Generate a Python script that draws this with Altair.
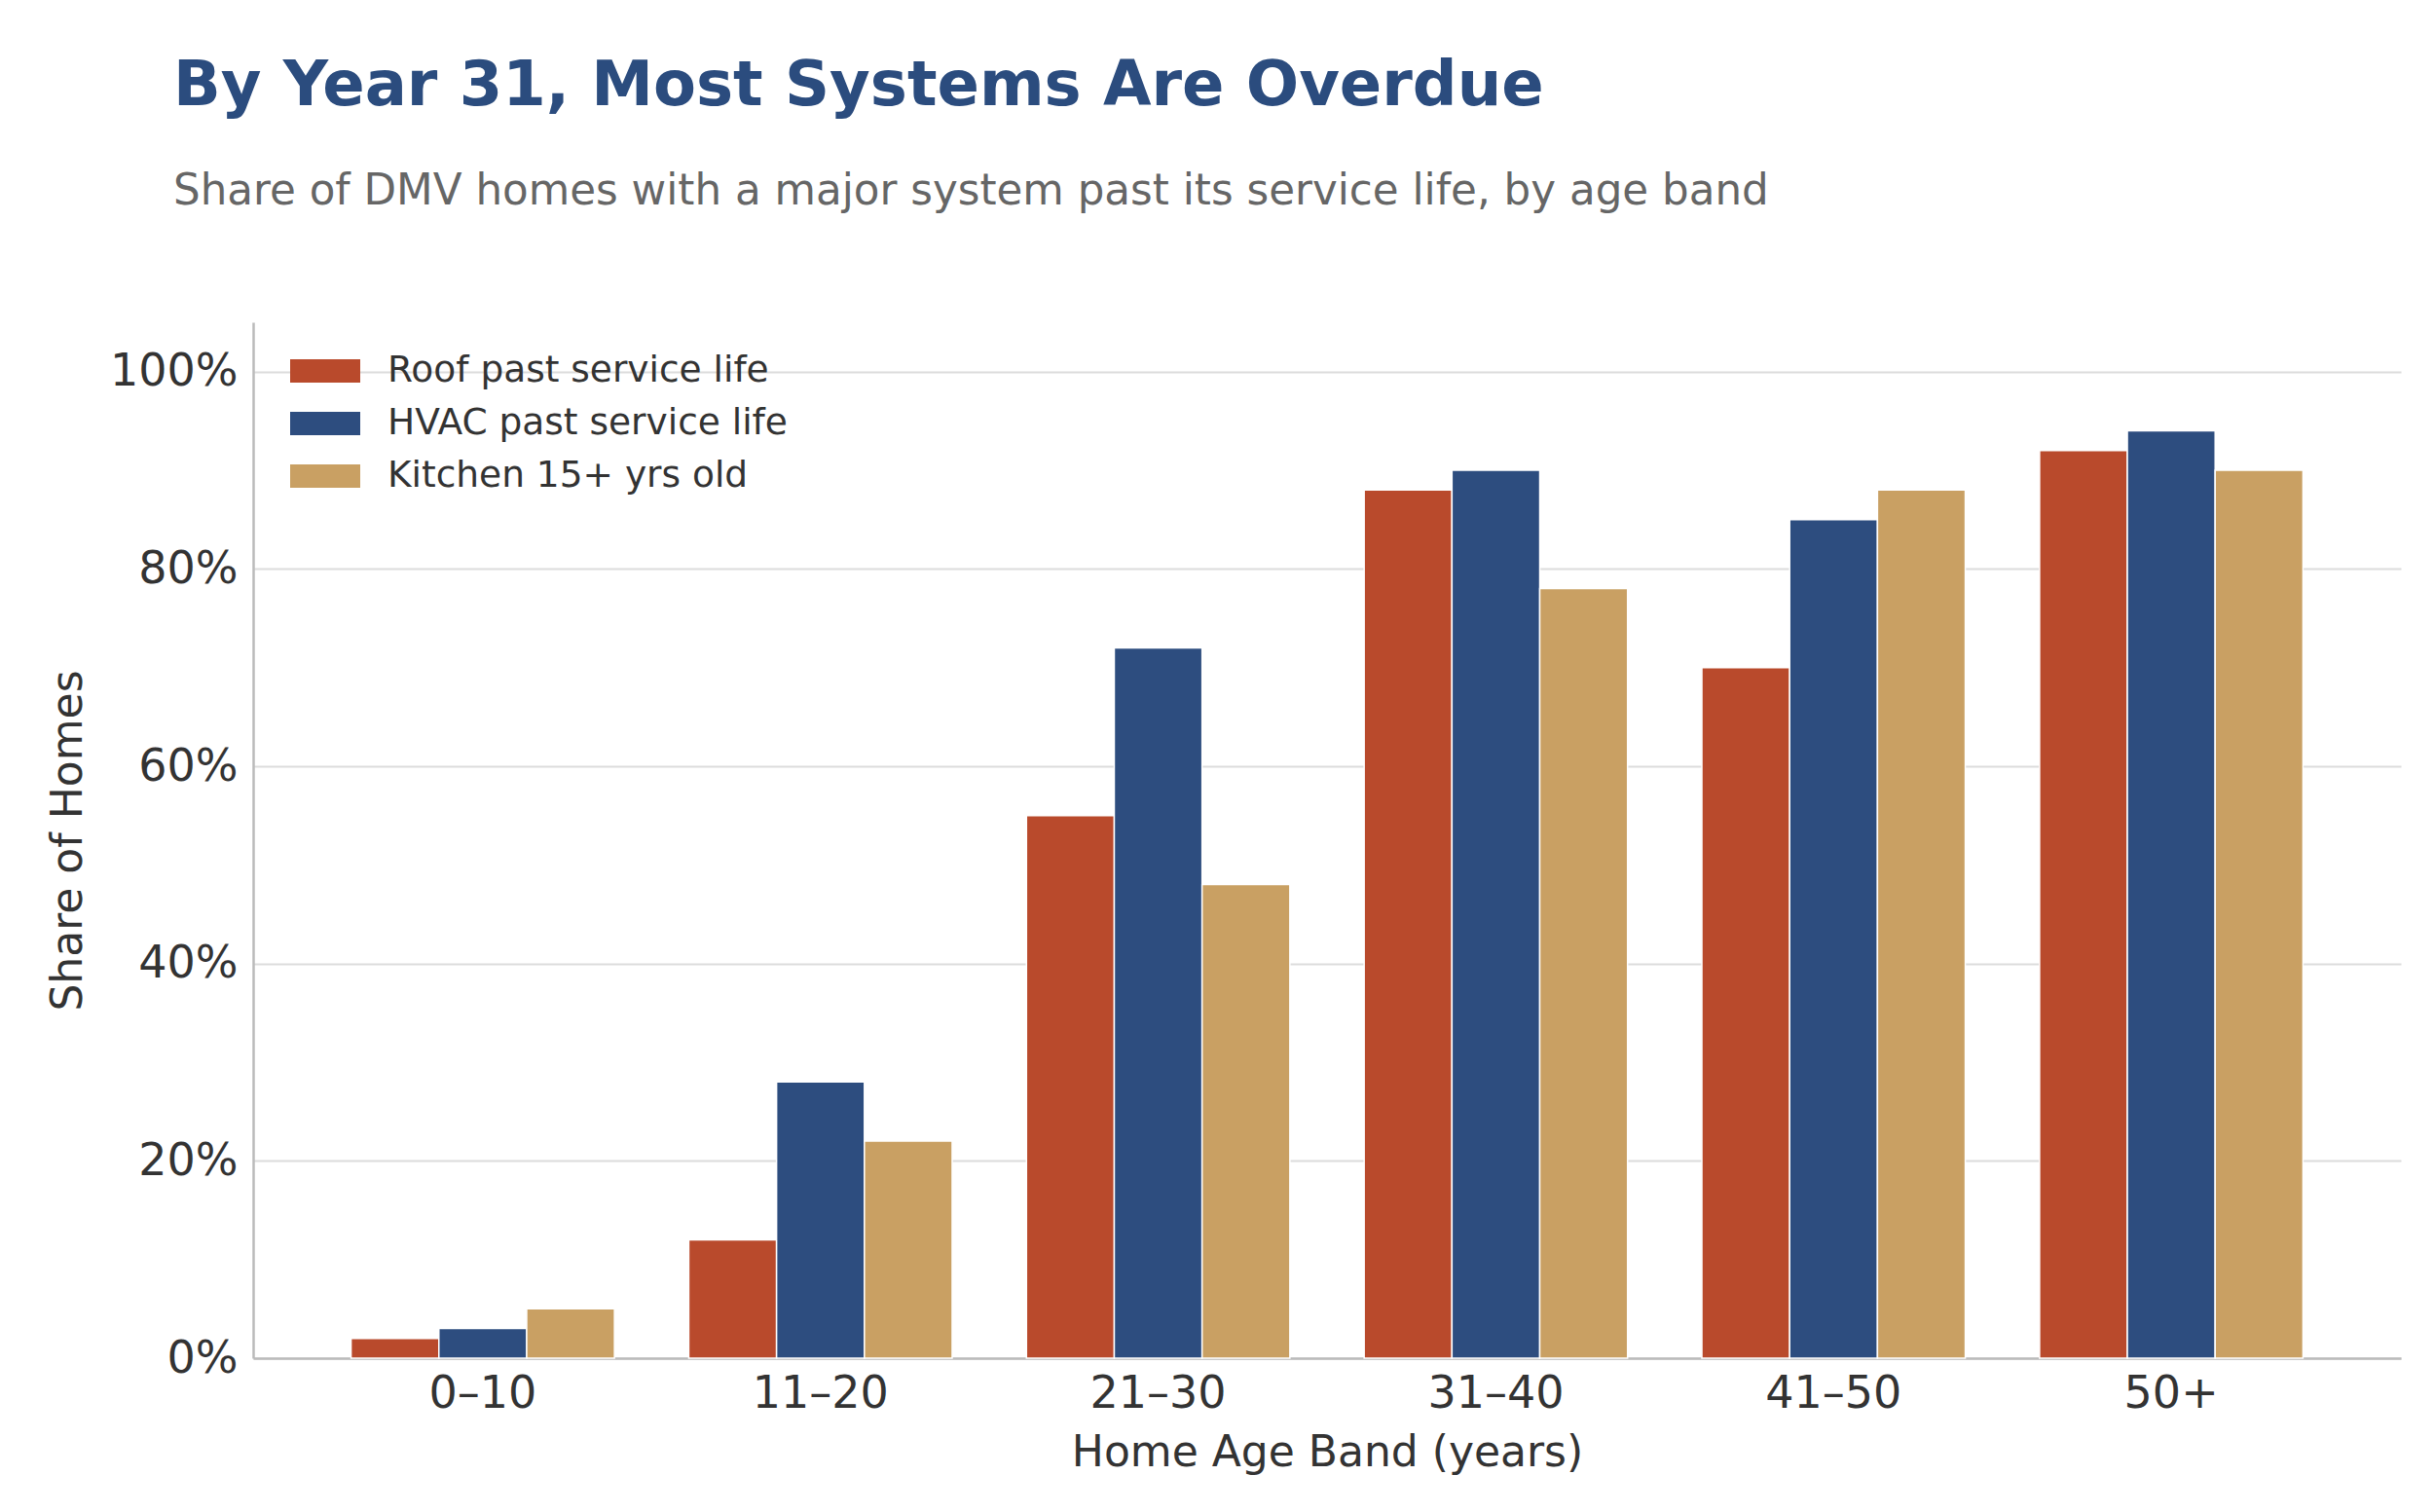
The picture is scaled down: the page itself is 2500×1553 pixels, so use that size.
import pandas as pd
import altair as alt

# age bands and the three systems (share of homes)
bands = ["0–10", "11–20", "21–30", "31–40", "41–50", "50+"]
systems = ["Roof past service life", "HVAC past service life", "Kitchen 15+ yrs old"]
roof = [0.02, 0.12, 0.55, 0.88, 0.70, 0.92]
hvac = [0.03, 0.28, 0.72, 0.90, 0.85, 0.94]
kitchen = [0.05, 0.22, 0.48, 0.78, 0.88, 0.90]
colors = ["#B94A2C", "#2D4D7F", "#C9A063"]
y_ticks = [0, 0.2, 0.4, 0.6, 0.8, 1.0]

rows = []
for series, vals in zip(systems, [roof, hvac, kitchen]):
    for b, v in zip(bands, vals):
        rows.append({"band": b, "system": series, "share": v})
df = pd.DataFrame(rows)

font = "DejaVu Sans"

bars = alt.Chart(df).mark_bar(stroke="white", strokeWidth=1.5).encode(
    x=alt.X("band:N", sort=bands, title="Home Age Band (years)",
            scale=alt.Scale(paddingInner=0.22, paddingOuter=0.29),
            axis=alt.Axis(labelAngle=0, ticks=False, labelPadding=14, titlePadding=16)),
    xOffset=alt.XOffset("system:N", sort=systems, scale=alt.Scale(paddingInner=0)),
    y=alt.Y("share:Q", title="Share of Homes",
            scale=alt.Scale(domain=[0, 1.05], nice=False),
            axis=alt.Axis(values=y_ticks, format=".0%", ticks=False, labelPadding=16,
                          titlePadding=20, gridColor="#DCDCDC", gridWidth=2)),
    color=alt.Color("system:N", sort=systems,
                    scale=alt.Scale(domain=systems, range=colors),
                    legend=alt.Legend(title=None, orient="none", legendX=50, legendY=26,
                                      symbolType="M-1.5,-0.5H1.5V0.5H-1.5Z",
                                      symbolSize=2304, symbolStrokeWidth=0,
                                      labelFontSize=37.5, labelColor="#333333",
                                      labelFont=font, labelOffset=40, rowPadding=11,
                                      labelLimit=0, padding=0)),
).properties(
    width=2206,
    height=1064,
    background="white",
    padding={"left": 252, "top": 323, "right": 26, "bottom": 155},
    autosize=alt.AutoSizeParams(type="none"),
    title=alt.TitleParams(
        text="By Year 31, Most Systems Are Overdue",
        subtitle="Share of DMV homes with a major system past its service life, by age band",
        anchor="start", frame="group", dx=-82, offset=112,
        font=font, fontSize=64, fontWeight="bold", color="#2B4C7E",
        subtitleFont=font, subtitleFontSize=43.6, subtitleColor="#666666",
        subtitlePadding=55,
    ),
)

chart = bars.configure_view(stroke=None).configure_axis(
    labelFont=font, titleFont=font, labelFontSize=46, titleFontSize=44,
    labelColor="#333333", titleColor="#333333", titleFontWeight="normal",
    domainColor="#BBBBBB", domainWidth=2.5,
).configure_axisX(grid=False)

chart.save("out.html", embed_options={"renderer": "svg", "actions": False})
